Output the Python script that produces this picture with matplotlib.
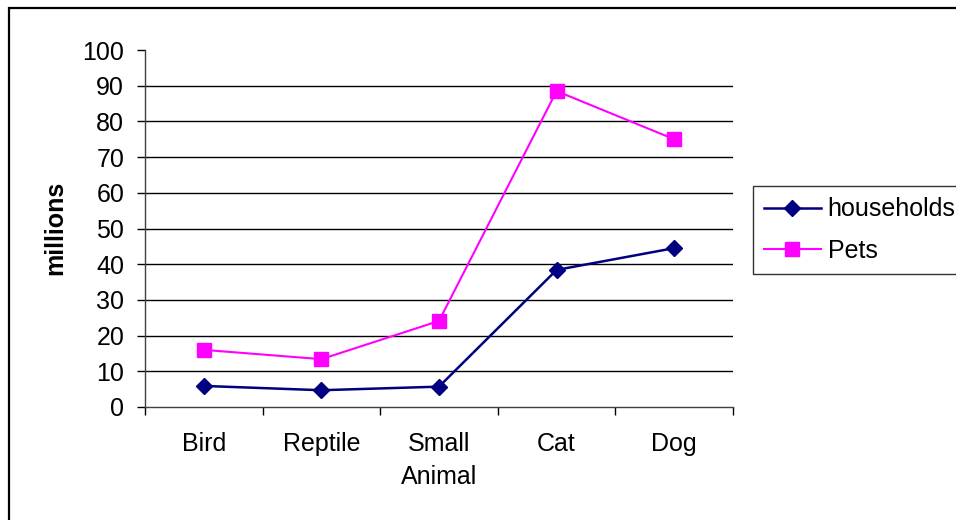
import matplotlib
matplotlib.use("Agg")
import matplotlib.pyplot as plt
from matplotlib.patches import Rectangle
from matplotlib.ticker import FixedLocator, NullFormatter

# Data (millions)
categories = ["Bird", "Reptile", "Small\nAnimal", "Cat", "Dog"]
households = [5.9, 4.7, 5.7, 38.4, 44.5]
pets = [16.0, 13.4, 24.1, 88.5, 75.0]
y_ticks = [0, 10, 20, 30, 40, 50, 60, 70, 80, 90, 100]

plt.rcParams["font.family"] = ["Liberation Sans", "DejaVu Sans"]

W, H = 956, 520
fig = plt.figure(figsize=(W / 100, H / 100), dpi=100)
fig.patch.set_facecolor("white")

# outer chart frame
fig.add_artist(Rectangle((9 / W, 0 - 0.01), 1.0, 1 - 8 / H + 0.01,
                         transform=fig.transFigure, fill=False,
                         edgecolor="black", linewidth=1.6, clip_on=False))

ax = fig.add_axes([145 / W, 1 - 407 / H, (733 - 145) / W, (407 - 50) / H])
x = list(range(len(categories)))

ax.plot(x, households, color="#000080", linewidth=1.8, marker="D",
        markersize=8.5, markerfacecolor="#000080", markeredgecolor="#000080",
        label="households", zorder=3)
ax.plot(x, pets, color="#FF00FF", linewidth=1.5, marker="s",
        markersize=9.5, markerfacecolor="#FF00FF", markeredgecolor="#FF00FF",
        label="Pets", zorder=3)

ax.set_xlim(-0.5, len(categories) - 0.5)
ax.set_ylim(0, 100)

# horizontal gridlines (no line at the top value)
for v in y_ticks[1:-1]:
    ax.axhline(v, color="black", linewidth=1.0, zorder=1)

ax.set_yticks(y_ticks)
ax.tick_params(axis="y", direction="out", length=6, width=1, pad=9,
               labelsize=18, colors="black")

# x ticks at category boundaries, labels centred on categories
ax.xaxis.set_major_locator(FixedLocator([i - 0.5 for i in range(len(categories) + 1)]))
ax.xaxis.set_major_formatter(NullFormatter())
ax.xaxis.set_minor_locator(FixedLocator(x))
ax.set_xticklabels(categories, minor=True)
ax.tick_params(axis="x", which="major", direction="out", length=6, width=1)
ax.tick_params(axis="x", which="minor", length=0, pad=18, labelsize=18)
for lbl in ax.get_xticklabels(minor=True):
    lbl.set_linespacing(1.45)

for s in ["top", "right"]:
    ax.spines[s].set_visible(False)
for s in ["left", "bottom"]:
    ax.spines[s].set_color("#404040")
    ax.spines[s].set_linewidth(1.0)

fig.text(55 / W, 1 - 228 / H, "millions", rotation=90, fontsize=18,
         fontweight="bold", ha="center", va="center")

leg = ax.legend(loc="upper left", bbox_to_anchor=(753 / W, 1 - 186 / H),
                bbox_transform=fig.transFigure, fontsize=18, frameon=True,
                fancybox=False, edgecolor="black", borderpad=0.45,
                labelspacing=0.7, handlelength=2.25, handletextpad=0.28,
                borderaxespad=0)
leg.get_frame().set_linewidth(1.0)

fig.savefig("out.png", dpi=100, facecolor="white")
